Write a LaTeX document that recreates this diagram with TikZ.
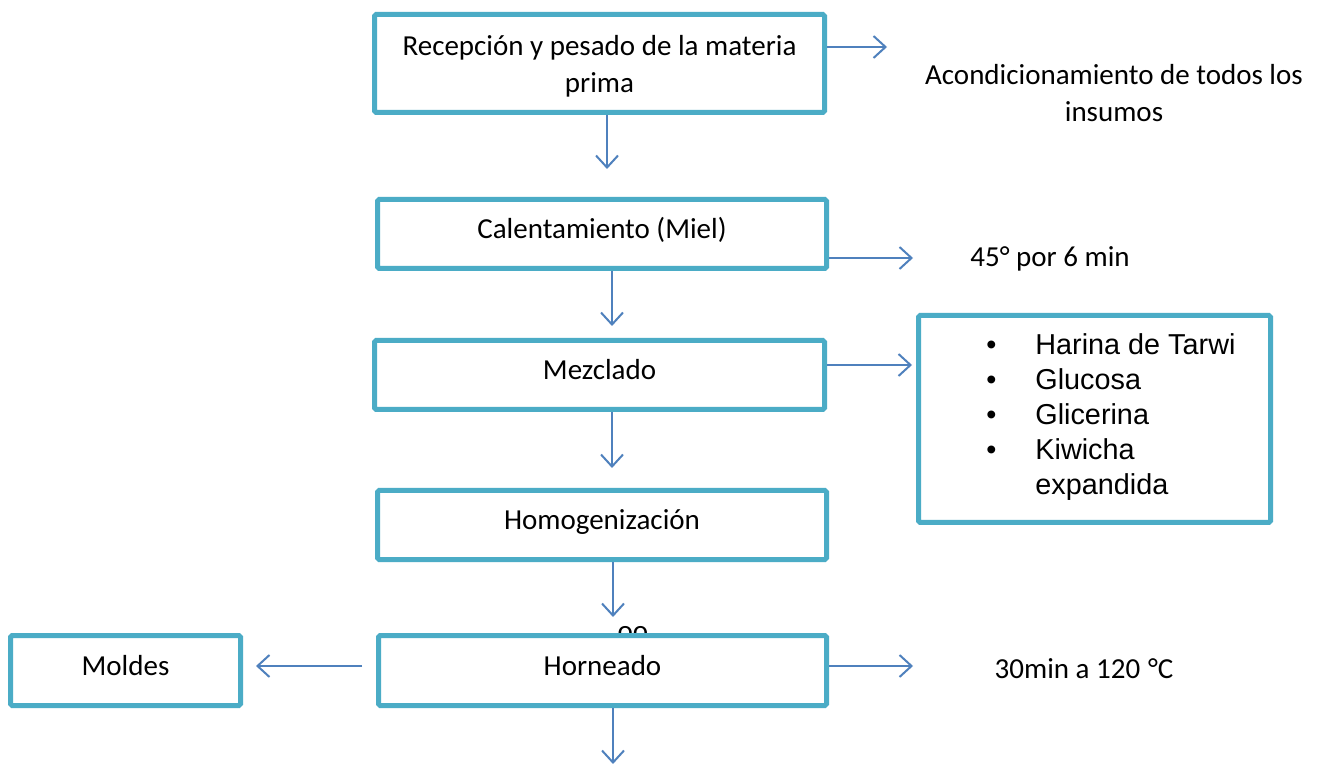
\documentclass[tikz,border=0pt]{standalone}
\usepackage{fontspec}
\setmainfont{Carlito}
\newfontfamily\arialf{Liberation Sans}
\usetikzlibrary{arrows.meta}
\definecolor{boxc}{HTML}{4BACC6}
\definecolor{arrc}{HTML}{4F81BD}
\begin{document}
\begin{tikzpicture}[x=0.5pt,y=-0.5pt,
  box/.style={draw=boxc, line width=2.5pt, fill=white, rounded corners=0.8pt, inner sep=0pt, align=center, font=\fontsize{14.5}{18.5}\selectfont},
  oneline/.style={text height=9pt, text depth=4.2pt},
  arr/.style={draw=arrc, line width=1pt, -{Straight Barb[length=6pt,width=11pt]}},
  lbl/.style={inner sep=0pt, align=center, font=\fontsize{14.5}{18.5}\selectfont}]
\useasboundingbox (0,0) rectangle (1323,764);
\fill[white] (0,0) rectangle (1323,764);

% partly hidden text behind Horneado box
\node[lbl, anchor=base] (hid) at (633,640) {oo};

% boxes
\node[box, minimum width=225pt, minimum height=49pt, text height=30.5pt, text depth=1.5pt] (b1) at (599.5,63.5) {Recepción y pesado de la materia\\prima};
\node[box, oneline, minimum width=224.5pt, minimum height=34.5pt] (b2) at (602,234) {Calentamiento (Miel)};
\node[box, oneline, minimum width=225pt, minimum height=34.5pt] (b3) at (599.5,375) {Mezclado};
\node[box, oneline, minimum width=224.5pt, minimum height=34.5pt] (b5) at (602,525) {Homogenización};
\node[box, oneline, minimum width=224pt, minimum height=35pt] (b6) at (602.5,670.5) {Horneado};
\node[box, oneline, minimum width=115pt, minimum height=35pt] (m) at (125.5,670.5) {Moldes};
\node[box, minimum width=176pt, minimum height=103.5pt] (lb) at (1094.5,419) {};
\node[inner sep=0pt, anchor=west, align=left, font=\arialf\fontsize{14.4}{17.6}\selectfont] (lt) at (986,417)
  {\makebox[24.5pt][l]{•}Harina de Tarwi\\
   \makebox[24.5pt][l]{•}Glucosa\\
   \makebox[24.5pt][l]{•}Glicerina\\
   \makebox[24.5pt][l]{•}Kiwicha\\
   \makebox[24.5pt][l]{}expandida};

% side texts
\node[lbl] (t1) at (1114,93) {Acondicionamiento de todos los\\insumos};
\node[lbl] (t2) at (1050,259) {45° por 6 min};
\node[lbl] (t3) at (1084,669) {30min a 120 \kern0.6pt°C};

% coordinates for free ends
\coordinate (e1) at (887,47);
\coordinate (e2) at (913,258);
\coordinate (e6) at (913,666);
\coordinate (eb) at (613,764);

% down arrows
\draw[arr, shorten >=14pt] (b1.south -| 607,0) -- (b2.north -| 607,0);
\draw[arr, shorten >=6pt] (b2.south -| 612,0) -- (b3.north -| 612,0);
\draw[arr, shorten >=10pt] (b3.south -| 612,0) -- (b5.north -| 612,0);
\draw[arr, shorten >=8pt] (b5.south -| 613,0) -- (b6.north -| 613,0);
\draw[arr] (b6.south -| eb) -- (eb);

% right arrows
\draw[arr] (b1.east |- e1) -- (e1);
\draw[arr] (b2.east |- e2) -- (e2);
\draw[arr, shorten >=2pt] (b3.east |- 0,365) -- (lb.west |- 0,365);
\draw[arr] (b6.east |- e6) -- (e6);

% left arrow
\draw[arr, shorten <=7pt, shorten >=6.5pt] (b6.west |- 0,666) -- (m.east |- 0,666);
\end{tikzpicture}
\end{document}
